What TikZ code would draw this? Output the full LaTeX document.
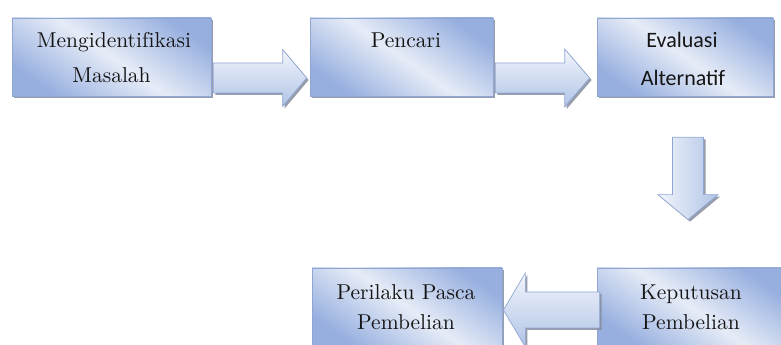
\documentclass[tikz,border=0pt]{standalone}
\usepackage{fontspec}
\newfontfamily\calibri{Carlito}
\newfontfamily\lmten{lmroman10-regular}[Extension=.otf]
\usetikzlibrary{calc,shadows}
\definecolor{bdark}{HTML}{97AFDF}
\definecolor{blight}{HTML}{E6ECF7}
\definecolor{bedge}{HTML}{8FA6D3}
\definecolor{shcol}{HTML}{858C9C}
\definecolor{alight}{HTML}{F2F5FB}
\definecolor{adark}{HTML}{B0C3E6}
\definecolor{txtcol}{HTML}{151515}
\begin{document}
\begin{tikzpicture}[x=1pt,y=1pt,
  boxnode/.style={draw=bedge, line width=0.7pt, minimum width=#1, minimum height=78pt,
    inner sep=0pt, top color=bdark, bottom color=bdark, middle color=blight, shading angle=-35,
    drop shadow={shadow xshift=2pt, shadow yshift=-2pt, fill=shcol, opacity=0.85}},
  txt/.style={anchor=base, inner sep=0pt, text=txtcol, font=\lmten\fontsize{21.5}{25}\selectfont},
  ctxt/.style={anchor=base, inner sep=0pt, text=txtcol, font=\calibri\fontsize{22}{26}\selectfont},
  arrowbody/.style={draw=bedge, line width=0.7pt, line join=miter,
    drop shadow={shadow xshift=2pt, shadow yshift=-2pt, fill=shcol, opacity=0.85}},
  harrow/.style={arrowbody, top color=alight, bottom color=adark},
  varrow/.style={arrowbody, left color=alight, right color=adark},
  blockarrow/.style n args={3}{to path={
    let \p1=($(\tikztotarget)-(\tikztostart)$), \n1={atan2(\y1,\x1)}, \n2={veclen(\x1,\y1)} in
    ($(\tikztostart)+({\n1+90}:#1)$)
    -- ($(\tikztostart)+(\n1:{\n2-#3})+({\n1+90}:#1)$)
    -- ($(\tikztostart)+(\n1:{\n2-#3})+({\n1+90}:#2)$)
    -- (\tikztotarget)
    -- ($(\tikztostart)+(\n1:{\n2-#3})+({\n1-90}:#2)$)
    -- ($(\tikztostart)+(\n1:{\n2-#3})+({\n1-90}:#1)$)
    -- ($(\tikztostart)+({\n1-90}:#1)$) -- cycle}}
]
\useasboundingbox (0,0) rectangle (781,345);
\clip (0,0) rectangle (781,345);

% boxes
\node[boxnode=199pt] (b1) at (111.5,288) {};
\node[boxnode=183pt] (b2) at (401.5,288) {};
\node[boxnode=176pt] (b3) at (685,288) {};
\node[boxnode=190pt] (b4) at (407,38) {};
\node[boxnode=188pt] (b5) at (691,38) {};

% arrows
\path[harrow] ([xshift=2pt,yshift=-21pt]b1.east) to[blockarrow={15}{28.5}{24}] ([xshift=-3pt,yshift=-21pt]b2.west);
\path[harrow] ([xshift=2pt,yshift=-21pt]b2.east) to[blockarrow={15}{29}{25}] ([xshift=-7pt,yshift=-21pt]b3.west);
\path[varrow] ([xshift=3pt,yshift=-41pt]b3.south) to[blockarrow={15.5}{30}{25}] ([xshift=-3pt,yshift=48pt]b5.north);
\path[harrow] ([xshift=3pt,yshift=-3pt]b5.west) to[blockarrow={18}{37}{22}] ([xshift=1pt,yshift=-3pt]b4.east);

% texts
\node[txt] (t1a) at (114,297) {Mengidentif\kern0pt ikasi};
\node[txt] (t1b) at (111.5,262) {Masalah};
\node[txt] (t2) at (406,297) {Pencari};
\node[ctxt] (t3a) at (682,297) {Evaluasi};
\node[ctxt] (t3b) at (683,259) {Alternatif};
\node[txt] (t4a) at (406,45) {Perilaku Pasca};
\node[txt] (t4b) at (406,15) {Pembelian};
\node[txt] (t5a) at (691,45) {Keputusan};
\node[txt] (t5b) at (691,15) {Pembelian};
\end{tikzpicture}
\end{document}
